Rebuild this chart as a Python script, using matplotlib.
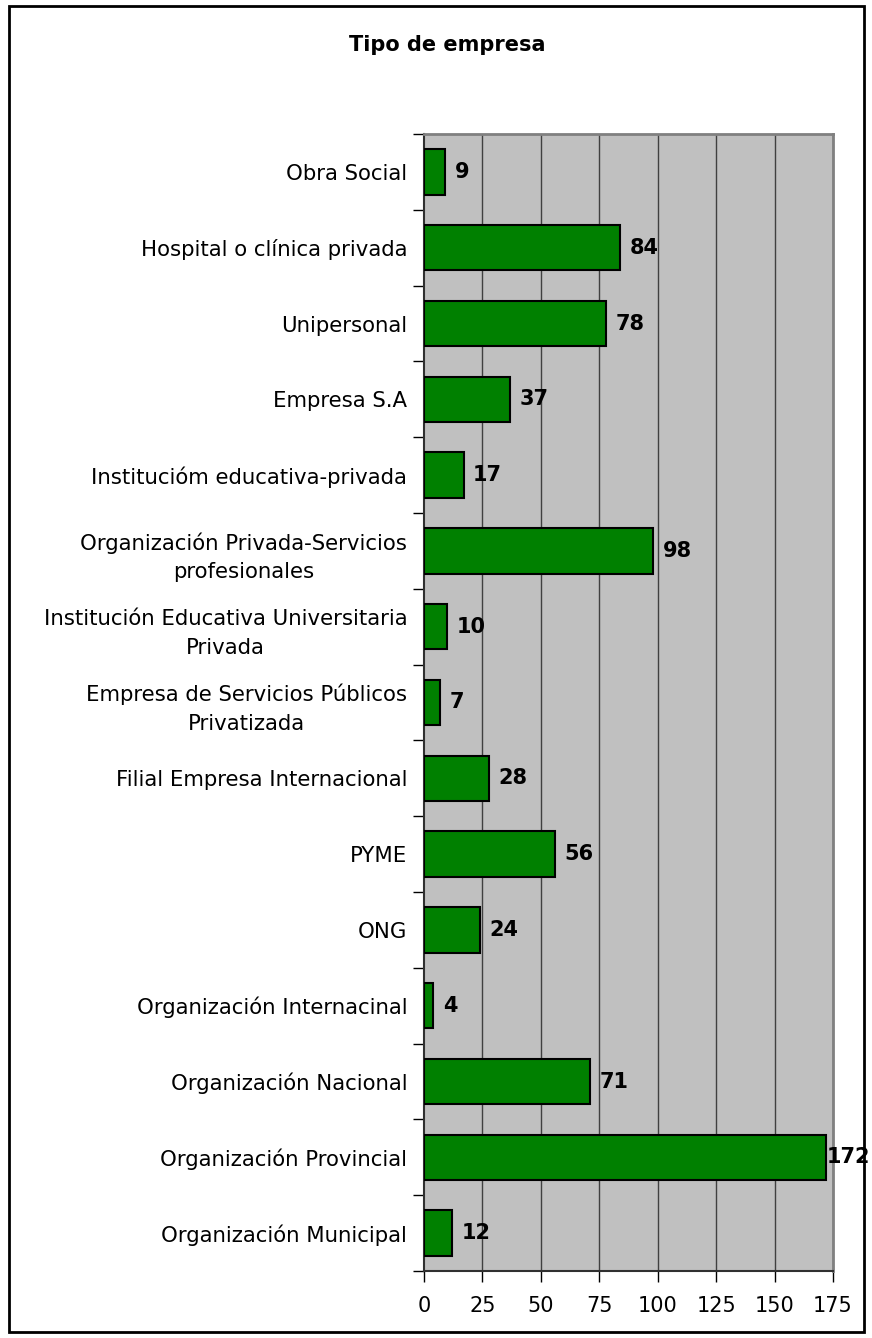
import matplotlib.pyplot as plt
from matplotlib.patches import Rectangle

# categorias de baixo para cima
categorias = ['Organización Municipal', 'Organización Provincial', 'Organización Nacional',
              'Organización Internacinal', 'ONG', 'PYME', 'Filial Empresa Internacional',
              'Empresa de Servicios Públicos\nPrivatizada',
              'Institución Educativa Universitaria\nPrivada',
              'Organización Privada-Servicios\nprofesionales',
              'Institucióm educativa-privada', 'Empresa S.A', 'Unipersonal',
              'Hospital o clínica privada', 'Obra Social']
valores = [12, 172, 71, 4, 24, 56, 28, 7, 10, 98, 17, 37, 78, 84, 9]
ticks_x = [0, 25, 50, 75, 100, 125, 150, 175]

plt.rcParams['font.family'] = ['DejaVu Sans']

fig = plt.figure(figsize=(8.72, 13.38), dpi=100)
ax = fig.add_axes([424 / 872, 1 - 1271 / 1338, (833 - 424) / 872, (1271 - 134) / 1338])

ax.set_facecolor('#c0c0c0')
y_pos = range(len(categorias))
ax.barh(y_pos, valores, height=0.6, color='#008000', edgecolor='black', linewidth=1.5, zorder=3)

# rotulo encostado na barra quando nao cabe (como no excel)
for i, v in enumerate(valores):
    ax.text(min(v + 4, 172.3), i, str(v), va='center', ha='left', fontsize=15,
            fontweight='bold', zorder=4)

ax.set_xlim(0, 175)
ax.set_ylim(-0.5, len(categorias) - 0.5)
ax.set_xticks(ticks_x)
ax.set_xticklabels([str(t) for t in ticks_x], fontsize=15)
ax.tick_params(axis='x', length=8, width=1, pad=10)

ax.set_yticks([i + 0.5 for i in range(-1, len(categorias))], minor=False)
ax.set_yticklabels([])
ax.tick_params(axis='y', which='major', length=8, width=1)
ax.set_yticks(list(y_pos), minor=True)
ax.set_yticklabels(categorias, minor=True, fontsize=15.3, ha='right',
                   multialignment='center', linespacing=1.55)
ax.tick_params(axis='y', which='minor', length=0, pad=12)

for t in ticks_x[1:]:
    ax.axvline(t, color='#404040', linewidth=1, zorder=1)

for s in ['top', 'right']:
    ax.spines[s].set_color('#808080')
    ax.spines[s].set_linewidth(2)
for s in ['left', 'bottom']:
    ax.spines[s].set_color('#303030')
    ax.spines[s].set_linewidth(1.5)

fig.text(447 / 872, 1 - 45 / 1338, 'Tipo de empresa', ha='center', va='center',
         fontsize=15, fontweight='bold')

fig.patches.append(Rectangle((9 / 872, 6 / 1338), 855 / 872, 1326 / 1338, transform=fig.transFigure,
                             fill=False, edgecolor='black', linewidth=2))

fig.savefig('out.png', dpi=100)
